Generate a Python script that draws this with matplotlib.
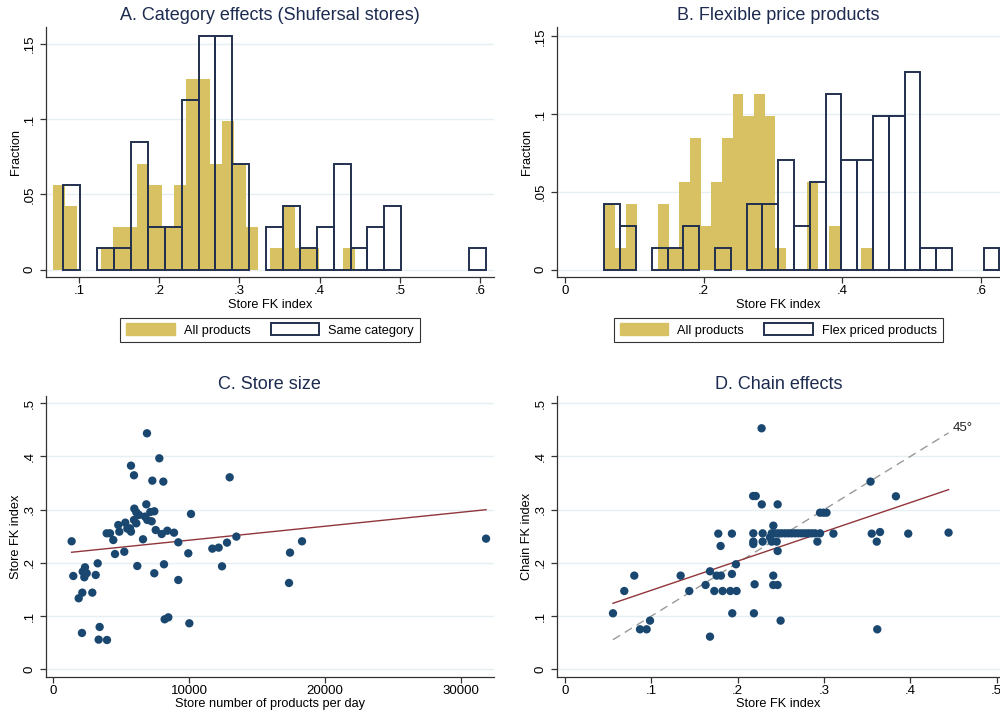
import numpy as np
from matplotlib import pyplot as plt
from matplotlib.patches import Patch

plt.rcParams['font.family'] = ['Liberation Sans', 'DejaVu Sans']

n_stores = 71

# A. histogram counts per bin (stores)
a_all_start = 0.0672
a_all_width = 0.01509
a_all_counts = [4, 3, 0, 0, 1, 2, 2, 5, 4, 2, 4, 9, 9, 5, 7, 5, 2, 0, 1, 3, 1, 1, 0, 0, 1]
a_cat_start = 0.0805
a_cat_width = 0.02107
a_cat_counts = [4, 0, 1, 1, 6, 2, 2, 8, 11, 11, 5, 0, 2, 3, 1, 2, 5, 1, 2, 3, 0, 0, 0, 0, 1]

# B. histogram counts per bin (stores)
b_all_start = 0.0569
b_all_width = 0.01542
b_all_counts = [3, 1, 3, 0, 0, 3, 1, 4, 6, 2, 4, 6, 8, 7, 8, 7, 1, 0, 0, 4, 0, 2, 0, 0, 1]
b_flex_start = 0.0569
b_flex_width = 0.0228
b_flex_counts = [3, 2, 0, 1, 1, 2, 0, 1, 0, 3, 3, 5, 2, 4, 8, 5, 5, 7, 7, 9, 1, 1, 0, 0, 1]

# C. store size vs store FK index
c_size = [1350, 1473, 1870, 2136, 2111, 2334, 2165, 2459, 2283, 2872, 3122, 3269,
          3412, 3339, 3953, 3932, 4175, 4418, 4543, 4786, 4860, 5228, 5302, 5450,
          5648, 5720, 5720, 5941, 5966, 6113, 5941, 6113, 6310, 6185, 6605, 6849,
          6898, 6751, 6923, 7144, 7242, 7439, 7291, 7541, 7437, 7807, 7982, 8102,
          8151, 8395, 8200, 8470, 8888, 9205, 9205, 9941, 10017, 10140, 11711,
          12177, 12423, 12791, 12988, 13479, 17357, 17431, 18315, 31866]
c_fk = [.2406, .1754, .1335, .1441, .0683, .1917, .1835, .1805, .173, .1441, .1773, .1992,
        .0796, .0558, .0551, .2556, .2556, .243, .2167, .2712, .2587, .221, .2756, .2644,
        .265, .2588, .3828, .3647, .302, .2951, .2807, .2744, .2901, .1942, .2444, .3101,
        .4436, .287, .2807, .2957, .2782, .297, .3546, .2618, .1805, .3966, .2543, .3528,
        .1974, .2605, .094, .0977, .2568, .2387, .1679, .218, .0865, .292, .2268,
        .2287, .1936, .2381, .3609, .2494, .1623, .2193, .2406, .2456]
c_fit = [0.220, 0.300]  # fitted value at min and max store size

# D. store FK index vs chain FK index
d_store = [.0556, .0687, .0803, .0869, .0946, .0985, .134, .144, .1629, .168, .168, .173,
           .1757, .1807, .1776, .1803, .1826, .1915, .1934, .1934, .1938, .1988, .1981,
           .218, .221, .2182, .2182, .2182, .2197, .2189, .2278, .228, .229, .229, .2414,
           .2413, .2413, .2463, .2464, .2464, .2498, .2395, .2433, .2472, .251, .2549,
           .2588, .2626, .2665, .2703, .2742, .278, .2819, .2857, .2896, .2955, .2395,
           .2453, .2924, .2375, .2955, .2994, .303, .311, .354, .3554, .3612, .365, .3618,
           .3834, .3977, .4444]
d_chain = [.1053, .1472, .1761, .0752, .0752, .0915, .1761, .1472, .1585, .1842, .0614, .1472,
           .1761, .1761, .255, .2318, .1472, .1472, .1792, .255, .1053, .1472, .1974,
           .3257, .3257, .2556, .24, .2355, .1598, .1053, .453, .310, .2556, .24, .27,
           .1761, .1585, .1585, .310, .2224, .0915, .2556, .2556, .2556, .2556, .2556,
           .2556, .2556, .2556, .2556, .2556, .2556, .2556, .2556, .2556, .2556, .24,
           .24, .24, .248, .2944, .2944, .2944, .255, .3528, .255, .24, .258, .0752,
           .3252, .255, .2569]
d_fit = [0.1241, 0.3377]  # fitted value at min and max store index

gold = '#d8c162'
navy = '#22304f'
dot = '#1a476f'
maroon = '#90353b'
grid = '#e6eff1'


def fmt(v):
    if v == 0:
        return '0'
    return ('%g' % v).lstrip('0')


def hist_bars(ax, start, width, counts, **kw):
    counts = np.asarray(counts)
    left = start + width * np.arange(len(counts))
    keep = counts > 0
    ax.bar(left[keep], counts[keep] / n_stores, width=width, align='edge', **kw)


def style(ax, xlim, ylim, xticks, yticks, xlab, ylab, title, xfmt=fmt):
    ax.set_xlim(xlim)
    ax.set_ylim(ylim)
    ax.set_xticks(xticks)
    ax.set_xticklabels([xfmt(v) for v in xticks])
    ax.set_yticks(yticks)
    ax.set_yticklabels([fmt(v) for v in yticks], rotation=90, va='center')
    for s in ['top', 'right']:
        ax.spines[s].set_visible(False)
    for s in ['left', 'bottom']:
        ax.spines[s].set_color('#333333')
        ax.spines[s].set_linewidth(0.9)
    ax.grid(axis='y', color=grid, lw=1)
    ax.set_axisbelow(True)
    ax.tick_params(length=4.5, width=0.9, color='#333333', labelsize=9.5)
    ax.tick_params(axis='x', pad=1.5)
    ax.tick_params(axis='y', pad=3)
    ax.set_xlabel(xlab, fontsize=9.2, labelpad=1)
    ax.set_ylabel(ylab, fontsize=9.2, labelpad=0.8)
    ax.set_title(title, fontsize=13, color='#1c2b4f', pad=5)


fig = plt.figure(figsize=(10, 7.13), dpi=100)
axA = fig.add_axes([0.046, 0.6115, 0.448, 0.3506])
axB = fig.add_axes([0.5567, 0.6115, 0.4433, 0.3506])
axC = fig.add_axes([0.0457, 0.0509, 0.4483, 0.3937])
axD = fig.add_axes([0.5567, 0.0509, 0.4433, 0.3937])

# A
hist_bars(axA, a_all_start, a_all_width, a_all_counts, color=gold, lw=0)
hist_bars(axA, a_cat_start, a_cat_width, a_cat_counts, fill=False, edgecolor=navy, lw=1.4)
style(axA, (0.0589, 0.6175), (-0.0049, 0.1611), [.1, .2, .3, .4, .5, .6], [0, .05, .1, .15],
      'Store FK index', 'Fraction', 'A. Category effects (Shufersal stores)')

# B
hist_bars(axB, b_all_start, b_all_width, b_all_counts, color=gold, lw=0)
hist_bars(axB, b_flex_start, b_flex_width, b_flex_counts, fill=False, edgecolor=navy, lw=1.4)
style(axB, (-0.012, 0.6277), (-0.0048, 0.156), [0, .2, .4, .6], [0, .05, .1, .15],
      'Store FK index', 'Fraction', 'B. Flexible price products')

for ax, lab in [(axA, 'Same category'), (axB, 'Flex priced products')]:
    handles = [Patch(facecolor=gold, edgecolor=gold),
               Patch(facecolor='white', edgecolor=navy, lw=1.4)]
    leg = ax.legend(handles, ['All products', lab], ncol=2, loc='center',
                    bbox_to_anchor=(0.5, -0.212), fontsize=9.2, frameon=True,
                    fancybox=False, edgecolor='black', handlelength=3.8,
                    handleheight=1.0, handletextpad=0.7, columnspacing=1.6,
                    borderpad=0.45)
    leg.get_frame().set_linewidth(0.8)

# C
axC.scatter(c_size, c_fk, s=36, color=dot, edgecolors='none', zorder=3)
axC.plot([min(c_size), max(c_size)], c_fit, color=maroon, lw=1.0, zorder=2)
style(axC, (-560, 32452), (-0.0139, 0.5137), [0, 10000, 20000, 30000], [0, .1, .2, .3, .4, .5],
      'Store number of products per day', 'Store FK index', 'C. Store size',
      xfmt=lambda v: '%d' % v)

# D
lo, hi = min(d_store), max(d_store)
axD.plot([lo, hi], [lo, hi], color='#999999', lw=1.0, dashes=(6, 4), zorder=2)
axD.plot([lo, hi], d_fit, color=maroon, lw=1.0, zorder=2)
axD.scatter(d_store, d_chain, s=36, color=dot, edgecolors='none', zorder=3)
axD.text(0.461, 0.454, '45°', fontsize=9.5, ha='center', va='center', color='#222222')
style(axD, (-0.0096, 0.504), (-0.0139, 0.5137), [0, .1, .2, .3, .4, .5], [0, .1, .2, .3, .4, .5],
      'Store FK index', 'Chain FK index', 'D. Chain effects')

fig.savefig('out.png', dpi=100)
